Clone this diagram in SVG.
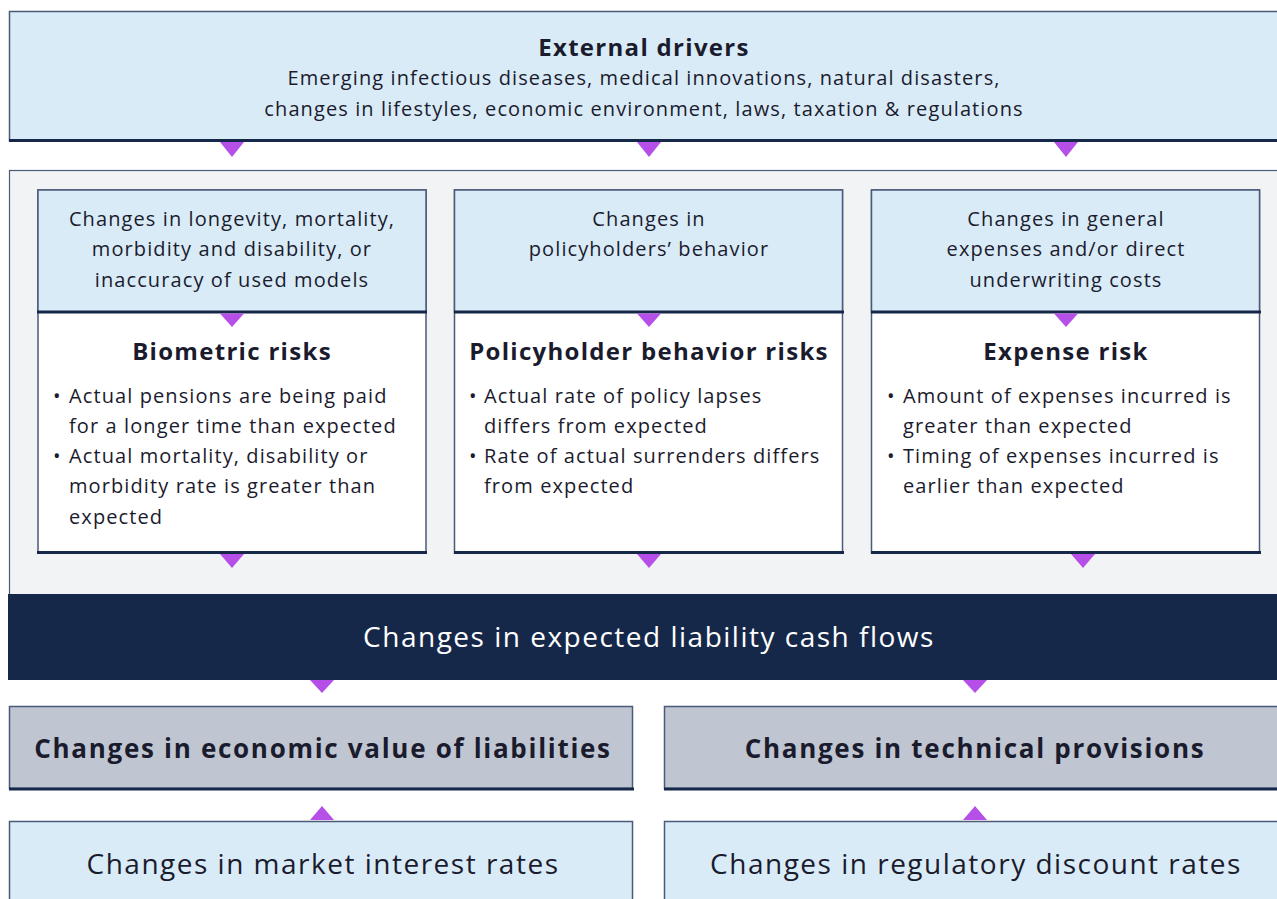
<svg xmlns="http://www.w3.org/2000/svg" width="1277" height="899" viewBox="0 0 1277 899">
<style>
.t{font-family:"Open Sans",Lato,sans-serif;fill:#1b1b2e}
.b{font-weight:bold}
.lb{fill:#d9ebf7;stroke:#4b5a78;stroke-width:1.5}
.wh{fill:#ffffff;stroke:#4b5a78;stroke-width:1.5}
.gr{fill:#bfc5d1;stroke:#4b5a78;stroke-width:1.5}
.bot{stroke:#16284a;stroke-width:3}
.tri{fill:#b64fe8}
.s20{font-size:20px;letter-spacing:1.1px}
.s24{font-size:24px;letter-spacing:1.3px}
.s28{font-size:28px;letter-spacing:1.5px}
.s26{font-size:26px;letter-spacing:1.7px}
</style>
<rect width="1277" height="899" fill="#ffffff"/>
<g id="container">
<rect x="9.5" y="170.5" width="1280" height="430" fill="#f2f3f5" stroke="#4b5a78" stroke-width="1.2"/>
</g>
<g id="external">
<rect class="lb" x="9.5" y="11.5" width="1280" height="129"/>
<line class="bot" x1="9" y1="140.5" x2="1277" y2="140.5"/>
<text class="t b s24" x="644" y="56" text-anchor="middle">External drivers</text>
<text class="t s20" x="644" y="85" text-anchor="middle">Emerging infectious diseases, medical innovations, natural disasters,</text>
<text class="t s20" x="644" y="116" text-anchor="middle">changes in lifestyles, economic environment, laws, taxation &amp; regulations</text>
</g>
<g id="biometric">
<rect class="wh" x="38" y="190" width="388" height="363"/>
<rect class="lb" x="38" y="190" width="388" height="122"/>
<line class="bot" x1="37" y1="312" x2="427" y2="312"/>
<line class="bot" x1="37" y1="552.5" x2="427" y2="552.5"/>
<text class="t s20" text-anchor="middle"><tspan x="232" y="226">Changes in longevity, mortality,</tspan><tspan x="232" y="256">morbidity and disability, or</tspan><tspan x="232" y="287">inaccuracy of used models</tspan></text>
<text class="t b s24" x="232" y="360" text-anchor="middle">Biometric risks</text>
<text class="t s20"><tspan x="53" y="403">•</tspan><tspan x="69" y="403">Actual pensions are being paid</tspan><tspan x="69" y="433">for a longer time than expected</tspan><tspan x="53" y="463">•</tspan><tspan x="69" y="463">Actual mortality, disability or</tspan><tspan x="69" y="493">morbidity rate is greater than</tspan><tspan x="69" y="524">expected</tspan></text>
</g>
<g id="policyholder">
<rect class="wh" x="454.5" y="190" width="388" height="363"/>
<rect class="lb" x="454.5" y="190" width="388" height="122"/>
<line class="bot" x1="454" y1="312" x2="844" y2="312"/>
<line class="bot" x1="454" y1="552.5" x2="844" y2="552.5"/>
<text class="t s20" text-anchor="middle"><tspan x="649" y="226">Changes in</tspan><tspan x="649" y="256">policyholders’ behavior</tspan></text>
<text class="t b s24" x="649" y="360" text-anchor="middle">Policyholder behavior risks</text>
<text class="t s20"><tspan x="469" y="403">•</tspan><tspan x="484" y="403">Actual rate of policy lapses</tspan><tspan x="484" y="433">differs from expected</tspan><tspan x="469" y="463">•</tspan><tspan x="484" y="463">Rate of actual surrenders differs</tspan><tspan x="484" y="493">from expected</tspan></text>
</g>
<g id="expense">
<rect class="wh" x="871.5" y="190" width="388" height="363"/>
<rect class="lb" x="871.5" y="190" width="388" height="122"/>
<line class="bot" x1="871" y1="312" x2="1261" y2="312"/>
<line class="bot" x1="871" y1="552.5" x2="1261" y2="552.5"/>
<text class="t s20" text-anchor="middle"><tspan x="1066" y="226">Changes in general</tspan><tspan x="1066" y="256">expenses and/or direct</tspan><tspan x="1066" y="287">underwriting costs</tspan></text>
<text class="t b s24" x="1066" y="360" text-anchor="middle">Expense risk</text>
<text class="t s20"><tspan x="887" y="403">•</tspan><tspan x="903" y="403">Amount of expenses incurred is</tspan><tspan x="903" y="433">greater than expected</tspan><tspan x="887" y="463">•</tspan><tspan x="903" y="463">Timing of expenses incurred is</tspan><tspan x="903" y="493">earlier than expected</tspan></text>
</g>
<g id="cashflows">
<rect x="8" y="594" width="1270" height="86" fill="#16284a"/>
<text class="t s28" x="649" y="647" text-anchor="middle" style="fill:#ffffff">Changes in expected liability cash flows</text>
</g>
<g id="economic">
<rect class="gr" x="9.5" y="706.5" width="623" height="82"/>
<line class="bot" x1="9" y1="789" x2="634" y2="789"/>
<text class="t b s26" x="323" y="758" text-anchor="middle">Changes in economic value of liabilities</text>
</g>
<g id="technical">
<rect class="gr" x="664.5" y="706.5" width="630" height="82"/>
<line class="bot" x1="664" y1="789" x2="1277" y2="789"/>
<text class="t b s26" x="975" y="758" text-anchor="middle">Changes in technical provisions</text>
</g>
<g id="market">
<rect class="lb" x="9.5" y="821.5" width="623" height="100"/>
<text class="t s28" x="323" y="874" text-anchor="middle">Changes in market interest rates</text>
</g>
<g id="regulatory">
<rect class="lb" x="664.5" y="821.5" width="630" height="100"/>
<text class="t s28" x="976" y="874" text-anchor="middle">Changes in regulatory discount rates</text>
</g>
<g id="connectors">
<polygon class="tri" points="220,142 244,142 232,157"/>
<polygon class="tri" points="637,142 661,142 649,157"/>
<polygon class="tri" points="1054,142 1078,142 1066,157"/>
<polygon class="tri" points="220,313.5 244,313.5 232,327"/>
<polygon class="tri" points="637,313.5 661,313.5 649,327"/>
<polygon class="tri" points="1054,313.5 1078,313.5 1066,327"/>
<polygon class="tri" points="220,554 244,554 232,568"/>
<polygon class="tri" points="637,554 661,554 649,568"/>
<polygon class="tri" points="1071,554 1095,554 1083,568"/>
<polygon class="tri" points="310,680 334,680 322,693"/>
<polygon class="tri" points="963,680 987,680 975,693"/>
<polygon class="tri" points="310,820 334,820 322,806"/>
<polygon class="tri" points="963,820 987,820 975,806"/>
</g>
</svg>
